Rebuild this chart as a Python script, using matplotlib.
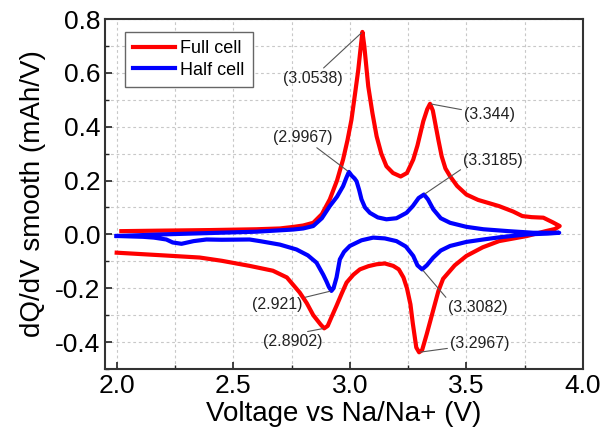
import matplotlib
matplotlib.use("Agg")
import matplotlib.pyplot as plt
from matplotlib.ticker import MultipleLocator

plt.rcParams['font.family'] = ['Liberation Sans', 'DejaVu Sans']
plt.rcParams['axes.unicode_minus'] = False

# full cell, charge branch (positive) then discharge branch (negative)
full_chg_v = [2.02, 2.2, 2.4, 2.6, 2.7, 2.76, 2.8, 2.843, 2.88, 2.914, 2.945, 2.971, 2.99, 3.007,
              3.022, 3.036, 3.046, 3.054, 3.062, 3.079, 3.097, 3.115, 3.135, 3.157, 3.185, 3.218,
              3.245, 3.272, 3.29, 3.315, 3.332, 3.344, 3.356, 3.368, 3.38, 3.394, 3.41, 3.43, 3.46,
              3.50, 3.55, 3.64, 3.70, 3.74, 3.78, 3.83, 3.87, 3.90]
full_chg_q = [0.012, 0.014, 0.016, 0.019, 0.022, 0.028, 0.033, 0.043, 0.075, 0.13, 0.2, 0.278, 0.35,
              0.426, 0.52, 0.61, 0.69, 0.752, 0.70, 0.55, 0.45, 0.364, 0.3, 0.253, 0.228, 0.215,
              0.228, 0.278, 0.33, 0.42, 0.465, 0.485, 0.46, 0.405, 0.35, 0.29, 0.245, 0.216, 0.18,
              0.148, 0.128, 0.105, 0.085, 0.068, 0.064, 0.062, 0.045, 0.031]
full_dis_v = [3.88, 3.84, 3.76, 3.64, 3.57, 3.50, 3.45, 3.40, 3.38, 3.355, 3.33, 3.31, 3.297, 3.285,
              3.27, 3.26, 3.245, 3.23, 3.21, 3.186, 3.15, 3.115, 3.08, 3.043, 3.015, 2.986, 2.965,
              2.943, 2.92, 2.905, 2.89, 2.875, 2.843, 2.815, 2.785, 2.73, 2.67, 2.57, 2.45, 2.356,
              2.2, 2.0]
full_dis_q = [0.02, 0.012, -0.006, -0.025, -0.048, -0.08, -0.115, -0.165, -0.21, -0.29, -0.37, -0.43,
              -0.438, -0.42, -0.33, -0.26, -0.2, -0.16, -0.13, -0.117, -0.108, -0.111, -0.118, -0.13,
              -0.15, -0.179, -0.22, -0.265, -0.31, -0.34, -0.349, -0.335, -0.30, -0.255, -0.216,
              -0.16, -0.135, -0.117, -0.098, -0.086, -0.078, -0.068]

# half cell
half_chg_v = [2.0, 2.2, 2.4, 2.6, 2.757, 2.8, 2.843, 2.88, 2.914, 2.945, 2.971, 2.985, 2.996, 3.008,
              3.02, 3.029, 3.04, 3.05, 3.065, 3.086, 3.12, 3.157, 3.2, 3.243, 3.27, 3.295, 3.318,
              3.335, 3.358, 3.39, 3.43, 3.5, 3.573, 3.68, 3.787, 3.898]
half_chg_q = [-0.006, 0.0, 0.005, 0.01, 0.018, 0.022, 0.031, 0.06, 0.105, 0.14, 0.179, 0.21, 0.232,
              0.218, 0.208, 0.197, 0.165, 0.13, 0.1, 0.08, 0.063, 0.056, 0.06, 0.08, 0.105, 0.135,
              0.148, 0.13, 0.093, 0.06, 0.043, 0.028, 0.019, 0.012, 0.006, 0.006]
half_dis_v = [3.85, 3.76, 3.65, 3.572, 3.5, 3.43, 3.39, 3.358, 3.33, 3.31, 3.29, 3.272, 3.24, 3.2,
              3.15, 3.1, 3.05, 3.0, 2.975, 2.957, 2.943, 2.93, 2.921, 2.91, 2.9, 2.886, 2.857, 2.82,
              2.771, 2.7, 2.614, 2.57, 2.45, 2.385, 2.33, 2.278, 2.24, 2.213, 2.16, 2.113, 2.0]
half_dis_q = [0.003, 0.0, -0.01, -0.019, -0.028, -0.043, -0.06, -0.086, -0.115, -0.13, -0.115, -0.08,
              -0.045, -0.025, -0.015, -0.012, -0.022, -0.043, -0.065, -0.093, -0.16, -0.2, -0.21,
              -0.195, -0.175, -0.15, -0.105, -0.078, -0.056, -0.038, -0.025, -0.019, -0.02, -0.019,
              -0.025, -0.035, -0.03, -0.019, -0.012, -0.009, -0.006]

# peak labels: text, peak position, label position
peak_labels = ['(3.0538)', '(2.9967)', '(3.344)', '(3.3185)', '(3.3082)', '(3.2967)', '(2.921)', '(2.8902)']
peak_xy = [(3.054, 0.752), (2.996, 0.232), (3.344, 0.485), (3.318, 0.148),
           (3.31, -0.13), (3.297, -0.438), (2.921, -0.21), (2.89, -0.349)]
label_xy = [(2.84, 0.58), (2.80, 0.36), (3.60, 0.444), (3.615, 0.275),
            (3.55, -0.272), (3.558, -0.407), (2.688, -0.259), (2.757, -0.399)]
label_rel = [(0.5, 0.5), (0.5, 0.5), (0.5, 0.5), (0.0, 0.0),
             (0.0, 1.0), (0.5, 0.5), (0.5, 0.5), (0.5, 1.0)]

fig = plt.figure(figsize=(6.05, 4.36), dpi=100)
ax = fig.add_axes([0.1736, 0.1537, 0.7900, 0.8027])

ax.plot(full_chg_v + full_dis_v, full_chg_q + full_dis_q, color='#ff0000', lw=3, label='Full cell',
        solid_joinstyle='round')
ax.plot(half_chg_v + half_dis_v, half_chg_q + half_dis_q, color='#0000ff', lw=3, label='Half cell',
        solid_joinstyle='round')

for txt, p, t, r in zip(peak_labels, peak_xy, label_xy, label_rel):
    ax.annotate(txt, xy=p, xytext=t, ha='center', va='center', fontsize=11.5, color='#222222',
                arrowprops=dict(arrowstyle='-', color='#555555', lw=0.8, relpos=r,
                                shrinkA=0, shrinkB=1))

ax.set_xlim(1.95, 4.0)
ax.set_ylim(-0.5, 0.8)
ax.xaxis.set_major_locator(MultipleLocator(0.5))
ax.xaxis.set_minor_locator(MultipleLocator(0.25))
ax.yaxis.set_major_locator(MultipleLocator(0.2))
ax.yaxis.set_minor_locator(MultipleLocator(0.1))
ax.grid(which='both', ls=(0, (2.5, 2.5)), color='#c8c8c8', lw=0.8)
ax.set_axisbelow(True)

ax.tick_params(which='both', direction='in', labelsize=19, color='#222222')
ax.tick_params(which='major', length=5, width=1.2)
ax.tick_params(which='minor', length=3, width=1.0)
for s in ax.spines.values():
    s.set_color('#333333')
    s.set_linewidth(1.5)

ax.set_xlabel('Voltage vs Na/Na+ (V)', fontsize=20, labelpad=2)
ax.set_ylabel('dQ/dV smooth (mAh/V)', fontsize=20, labelpad=6)

leg = ax.legend(loc='upper left', bbox_to_anchor=(0.042, 0.963), borderaxespad=0, fontsize=13,
                handlelength=2.3, handletextpad=0.3, fancybox=False, framealpha=1,
                borderpad=0.45, labelspacing=0.25)
leg.get_frame().set_edgecolor('#666666')
leg.get_frame().set_linewidth(1.0)

fig.savefig('out.png', dpi=100)
